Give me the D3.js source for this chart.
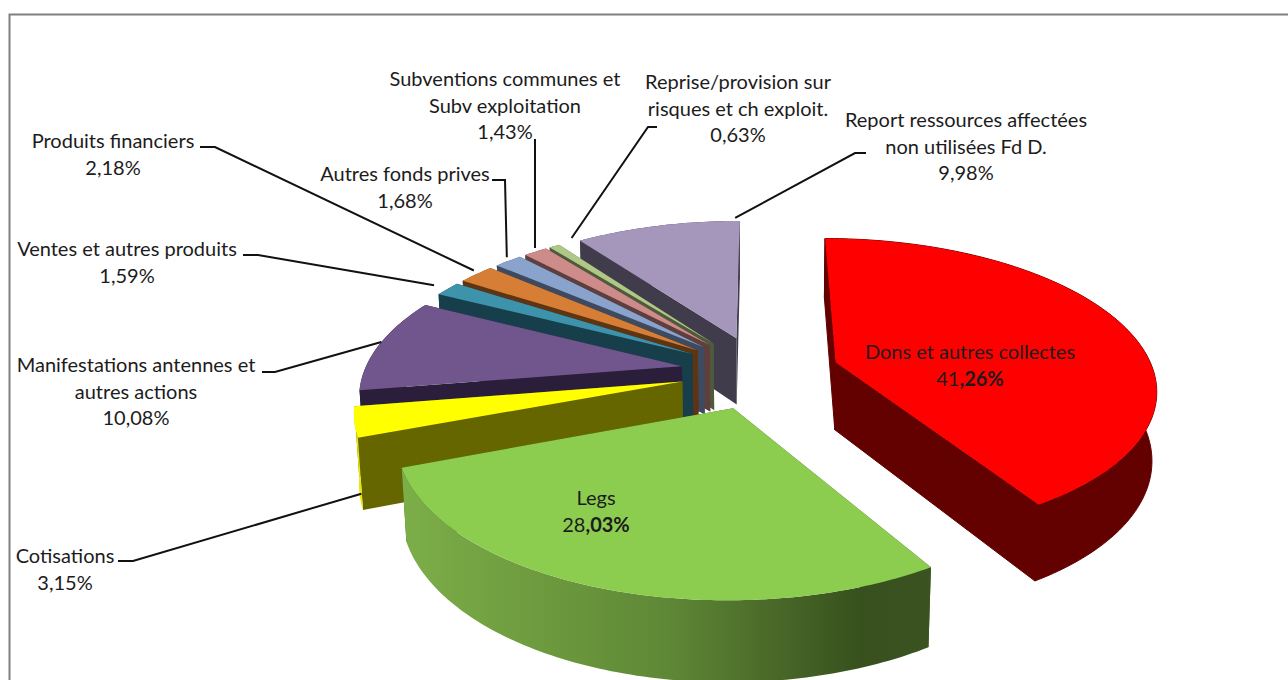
<!DOCTYPE html>
<html>
<head>
<meta charset="utf-8">
<script src="https://cdnjs.cloudflare.com/ajax/libs/d3/7.8.5/d3.min.js"></script>
<style>
	html, body { margin: 0; padding: 0; background: #fff; overflow: hidden; }
	text { font-family: Lato, "Open Sans", sans-serif; font-size: 20px; fill: #1c1c1c; }
</style>
</head>
<body>
<script>
var categories = ["Dons et autres collectes", "Legs", "Cotisations", "Manifestations antennes et autres actions",
	"Ventes et autres produits", "Produits financiers", "Autres fonds prives",
	"Subventions communes et Subv exploitation", "Reprise/provision sur risques et ch exploit.",
	"Report ressources affectées non utilisées Fd D."];
var values = [41.26, 28.03, 3.15, 10.08, 1.59, 2.18, 1.68, 1.43, 0.63, 9.98];
var valueLabels = ["41,26%", "28,03%", "3,15%", "10,08%", "1,59%", "2,18%", "1,68%", "1,43%", "0,63%", "9,98%"];
var topColors = ["#ff0000", "#8ccd50", "#ffff00", "#70568c", "#3d93ab", "#d67e35", "#8aa3cd", "#cd8b89", "#afc886", "#a596bb"];
var wallColors = ["#630000", "#3f5c22", "#666600", "#2b1e3b", "#173f4b", "#5e3413", "#3e4a60", "#5f3f3e", "#4f5a3c", "#413c4c"];
var rimColors = ["#630000", "url(#legsRim)", "#e8e800", "#2b1e3b", "#173f4b", "#5e3413", "#3e4a60", "#5f3f3e", "#4f5a3c", "#413c4c"];

// label text, one entry per line, then where it goes on the page
var labelLines = [
	["Dons et autres collectes"], ["Legs"], ["Cotisations"], ["Manifestations antennes et", "autres actions"],
	["Ventes et autres produits"], ["Produits financiers"], ["Autres fonds prives"],
	["Subventions communes et", "Subv exploitation"], ["Reprise/provision sur", "risques et ch exploit."],
	["Report ressources affectées", "non utilisées Fd D."]
];
var labelX = [970, 596, 65, 136, 127, 113, 405, 505, 738, 966];
var labelY = [359, 505, 563, 372, 256, 148, 181, 86, 89, 127];

// leader: start at the label, elbow, then angle tweak (deg), reach and depth on the slice
var leaderStart = [null, null, [118, 561], [262, 372], [243, 255], [200, 147], [492, 180], [536, 140], [657, 127], [866, 153]];
var leaderElbow = [null, null, [133, 561], [275, 372], [258, 255], [215, 147], [505, 180], [535, 140], [648, 127], [855, 153]];
var leaderTweak = [0, 0, -5, 1, 0, 1, 1, 1, 5, 17];
var leaderReach = [1, 1, 1, 1, 1.06, 1.03, 1.03, 1.03, 1.03, 1.03];
var leaderDepth = [0, 0, 0.8, 0, 0, 0, 0, 0, 0, 0];

var width = 1288;
var height = 680;
var centerX = 760;
var centerY = 372;
var radiusX = 318;
var radiusY = 147;
var depth = 69;
var explode = 0.25;
var perspective = 0.165;
var perspectiveZ = 0.012;
var toRad = Math.PI / 180;

var svg = d3.select("body").append("svg")
	.attr("width", width)
	.attr("height", height);

svg.append("rect")
	.attr("width", width)
	.attr("height", height)
	.attr("fill", "#fff");

// frame of the pasted picture, only the top and left are in view
svg.append("path")
	.attr("d", "M9.5 680 L9.5 14.5 L1288 14.5")
	.attr("fill", "none")
	.attr("stroke", "#808080")
	.attr("stroke-width", 2);

var defs = svg.append("defs");
var rimGradient = defs.append("linearGradient")
	.attr("id", "legsRim")
	.attr("gradientUnits", "userSpaceOnUse")
	.attr("x1", 404).attr("y1", 0)
	.attr("x2", 930).attr("y2", 0);
rimGradient.append("stop").attr("offset", "0").attr("stop-color", "#7cae48");
rimGradient.append("stop").attr("offset", "0.5").attr("stop-color", "#5f8836");
rimGradient.append("stop").attr("offset", "0.87").attr("stop-color", "#37501d");
rimGradient.append("stop").attr("offset", "1").attr("stop-color", "#3a5320");

var pie = d3.pie()
	.sort(null)
	.startAngle(0)
	.endAngle(360 * toRad);
var slices = pie(values);
slices.forEach(function (d) { d.mid = (d.startAngle + d.endAngle) / 2; });

// slice plane to page, nearer points come out bigger
function project(d, angle, r, z) {
	var u = explode * Math.sin(d.mid) + r * Math.sin(angle);
	var v = explode * Math.cos(d.mid) + r * Math.cos(angle);
	var s = 1 / (1 + perspective * v + perspectiveZ * z);
	return [centerX + radiusX * u * s, centerY - radiusY * v * s + depth * z * s];
}

function arcPoints(d, z) {
	var pts = [];
	var n = Math.max(2, Math.ceil((d.endAngle - d.startAngle) / toRad));
	for (var i = 0; i <= n; i++) {
		pts.push(project(d, d.startAngle + (d.endAngle - d.startAngle) * i / n, 1, z));
	}
	return pts;
}

var line = d3.line();

function wall(d, angle) {
	return line([project(d, angle, 0, 0), project(d, angle, 1, 0), project(d, angle, 1, 1), project(d, angle, 0, 1)]) + "Z";
}

// back to front: the far small slices first, Legs last
var order = [9, 8, 7, 6, 5, 4, 3, 2, 0, 1];
order.forEach(function (i) {
	var d = slices[i];
	var g = svg.append("g");
	// red has the same colour on wall and rim, a hairline stroke hides the seam
	var seam = i === 0 ? wallColors[i] : "none";
	g.append("path").attr("d", wall(d, d.endAngle)).attr("fill", wallColors[i]).attr("stroke", seam);
	g.append("path").attr("d", wall(d, d.startAngle)).attr("fill", wallColors[i]).attr("stroke", seam);
	g.append("path")
		.attr("d", line(arcPoints(d, 0).concat(arcPoints(d, 1).reverse())) + "Z")
		.attr("fill", rimColors[i])
		.attr("stroke", seam);
	g.append("path")
		.attr("d", line([project(d, d.startAngle, 0, 0)].concat(arcPoints(d, 0))) + "Z")
		.attr("fill", topColors[i]);
});

// leader lines
slices.forEach(function (d, i) {
	if (!leaderStart[i]) return;
	var end = project(d, d.mid + leaderTweak[i] * toRad, leaderReach[i], leaderDepth[i]);
	svg.append("path")
		.attr("d", line([leaderStart[i], leaderElbow[i], end]))
		.attr("fill", "none")
		.attr("stroke", "#111")
		.attr("stroke-width", 2);
});

// labels, the two biggest have a bold decimal part
var lineHeight = 26.5;
categories.forEach(function (c, i) {
	var t = svg.append("text")
		.attr("text-anchor", "middle");
	labelLines[i].forEach(function (l, j) {
		t.append("tspan")
			.attr("x", labelX[i])
			.attr("y", labelY[i] + j * lineHeight)
			.text(l);
	});
	var valueY = labelY[i] + labelLines[i].length * lineHeight;
	if (i < 2) {
		var parts = valueLabels[i].split(",");
		t.append("tspan").attr("x", labelX[i]).attr("y", valueY).text(parts[0]);
		t.append("tspan").attr("font-weight", "bold").text("," + parts[1]);
	} else {
		t.append("tspan").attr("x", labelX[i]).attr("y", valueY).text(valueLabels[i]);
	}
});
</script>
</body>
</html>
